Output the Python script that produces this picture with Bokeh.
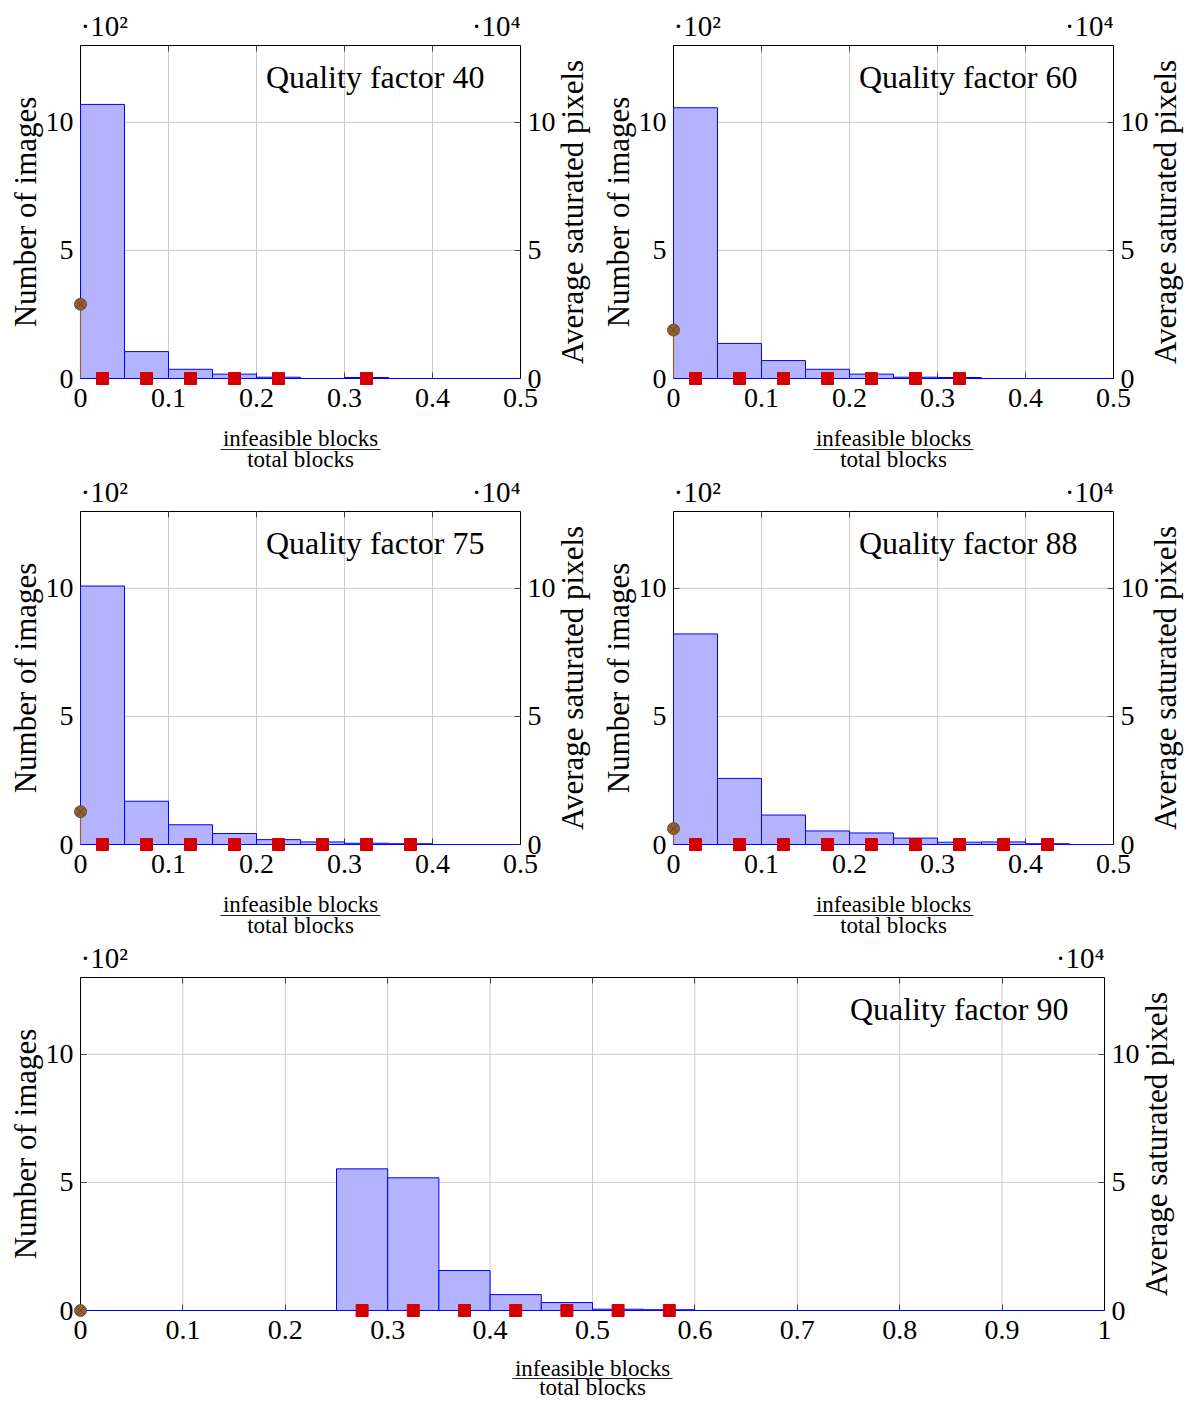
import math
from bokeh.plotting import figure
from bokeh.models import (Range1d, LinearAxis, FixedTicker, CustomJSTickFormatter, Label)
from bokeh.layouts import column, row
from bokeh.embed import file_html
from bokeh.resources import INLINE

FONT = "Liberation Serif"

# ---------------- data (counts in units of 10^2, saturated pixels in units of 10^4)
bin_width = 0.05
q40_counts = [10.7, 1.05, 0.36, 0.17, 0.05, 0.0, 0.04, 0.0, 0.0, 0.0]
q60_counts = [10.57, 1.37, 0.70, 0.36, 0.17, 0.05, 0.04, 0.0, 0.0, 0.0]
q75_counts = [10.09, 1.69, 0.77, 0.43, 0.19, 0.10, 0.05, 0.03, 0.0, 0.0]
q88_counts = [8.22, 2.58, 1.15, 0.53, 0.45, 0.25, 0.09, 0.10, 0.03, 0.0]
q90_counts = [0.0, 0.0, 0.0, 0.0, 0.0, 5.53, 5.18, 1.56, 0.62, 0.31,
              0.05, 0.03, 0.0, 0.0, 0.0, 0.0, 0.0, 0.0, 0.0, 0.0]

q40_sat_x = [0.025, 0.075, 0.125, 0.175, 0.225, 0.325]
q40_sat_y = [0.0, 0.0, 0.0, 0.0, 0.0, 0.0]
q60_sat_x = [0.025, 0.075, 0.125, 0.175, 0.225, 0.275, 0.325]
q60_sat_y = [0.0, 0.0, 0.0, 0.0, 0.0, 0.0, 0.0]
q75_sat_x = [0.025, 0.075, 0.125, 0.175, 0.225, 0.275, 0.325, 0.375]
q75_sat_y = [0.0, 0.0, 0.0, 0.0, 0.0, 0.0, 0.0, 0.0]
q88_sat_x = [0.025, 0.075, 0.125, 0.175, 0.225, 0.275, 0.325, 0.375, 0.425]
q88_sat_y = [0.0, 0.0, 0.0, 0.0, 0.0, 0.0, 0.0, 0.0, 0.0]
q90_sat_x = [0.275, 0.325, 0.375, 0.425, 0.475, 0.525, 0.575]
q90_sat_y = [0.0, 0.0, 0.0, 0.0, 0.0, 0.0, 0.0]

# saturated pixels of images with no infeasible block (x = 0)
q40_zero = [0.0, 2.9]
q60_zero = [0.0, 1.89]
q75_zero = [0.0, 1.28]
q88_zero = [0.0, 0.62]
q90_zero = [0.0, 0.0]

xticks_small = [0, 0.1, 0.2, 0.3, 0.4, 0.5]
xticks_wide = [0, 0.1, 0.2, 0.3, 0.4, 0.5, 0.6, 0.7, 0.8, 0.9, 1.0]
yticks = [0, 5, 10]
YMAX = 13

left_label = "Number of images"
right_label = "Average saturated pixels"
frac_num = "infeasible blocks"
frac_den = "total blocks"

# ---------------- layout constants (pixels)
BOX_H = 333
BOX_LEFT = 80

BAR_FILL = "#b3b3ff"
BAR_LINE = "#0000ff"
RED = "#d40000"
BROWN = "#946030"
GRID = "#cccccc"


def fmt():
    return CustomJSTickFormatter(code="return tick.toFixed(1).replace(/\\.0$/, '');")


def make_panel(counts, sat_x, sat_y, zero, title, xmax, xticks, box_w, fig_w, fig_h,
               box_top, frac_offsets=(-60, -71, -81)):
    px_x = box_w / xmax
    px_y = BOX_H / YMAX
    xs = -BOX_LEFT / px_x
    xe = xmax + (fig_w - BOX_LEFT - box_w) / px_x
    ys = -(fig_h - box_top - BOX_H) / px_y
    ye = YMAX + box_top / px_y
    p = figure(width=fig_w, height=fig_h,
               x_range=Range1d(xs, xe), y_range=Range1d(ys, ye),
               x_axis_location=None, y_axis_location=None,
               toolbar_location=None, output_backend="svg", min_border=0)
    p.outline_line_color = None
    p.background_fill_color = "white"
    p.border_fill_color = "white"
    p.xgrid.visible = False
    p.ygrid.visible = False
    p.extra_y_ranges = {"right": Range1d(ys, ye)}

    # grid lines inside the box
    gx = [t for t in xticks if 0 < t < xmax]
    p.segment(x0=gx, y0=[0] * len(gx), x1=gx, y1=[YMAX] * len(gx),
              line_color=GRID, line_width=1)
    gy = [t for t in yticks if 0 < t < YMAX]
    p.segment(x0=[0] * len(gy), y0=gy, x1=[xmax] * len(gy), y1=gy,
              line_color=GRID, line_width=1)

    # histogram
    n = len(counts)
    lefts = [i * bin_width for i in range(n)]
    rights = [(i + 1) * bin_width for i in range(n)]
    p.quad(left=lefts, right=rights, bottom=[0] * n, top=counts,
           fill_color=BAR_FILL, line_color=BAR_LINE, line_width=1, level="overlay")

    # saturated pixels
    p.line(x=[0, 0], y=zero, line_color=BROWN, line_width=1.2,
           y_range_name="right", level="overlay")
    p.scatter(x=[0], y=[zero[1]], marker="circle_x", size=12,
              fill_color=BROWN, line_color="#5a3a1c", line_width=0.8,
              y_range_name="right", level="overlay")
    p.scatter(x=sat_x, y=sat_y, marker="square", size=12,
              fill_color=RED, line_color=RED, y_range_name="right", level="overlay")

    # axes (drawn as the box)
    bottom = LinearAxis(fixed_location=0, bounds=(0, xmax),
                        ticker=FixedTicker(ticks=xticks), formatter=fmt())
    left = LinearAxis(fixed_location=0, bounds=(0, YMAX),
                      ticker=FixedTicker(ticks=yticks), formatter=fmt())
    right = LinearAxis(fixed_location=xmax, y_range_name="right", bounds=(0, YMAX),
                       ticker=FixedTicker(ticks=yticks), formatter=fmt())
    top = LinearAxis(fixed_location=YMAX, bounds=(0, xmax), ticker=FixedTicker(ticks=xticks),
                     formatter=CustomJSTickFormatter(code="return '';"))
    for ax in (bottom, left, right, top):
        ax.major_tick_in = 6
        ax.major_tick_out = 0
        ax.minor_tick_line_color = None
        ax.axis_line_color = "black"
        ax.axis_line_width = 1
        ax.major_tick_line_color = "#444444"
        ax.major_label_text_font = FONT
        ax.major_label_text_font_size = "28px"
        ax.major_label_text_color = "black"
        ax.major_label_standoff = 7
    bottom.major_label_standoff = 10
    p.add_layout(bottom, "below")
    p.add_layout(left, "left")
    p.add_layout(right, "right")
    p.add_layout(top, "above")

    # axis titles
    p.add_layout(Label(x=0, y=YMAX / 2, x_offset=-55, angle=math.pi / 2,
                       text=left_label, text_align="center", text_baseline="middle",
                       text_font=FONT, text_font_size="31px", text_color="black"))
    p.add_layout(Label(x=xmax, y=YMAX / 2, x_offset=52, angle=math.pi / 2,
                       text=right_label, text_align="center", text_baseline="middle",
                       text_font=FONT, text_font_size="31px", text_color="black"))
    # scale multipliers
    p.add_layout(Label(x=0, y=YMAX, y_offset=4, text="·10²", text_align="left",
                       text_baseline="bottom", text_font=FONT,
                       text_font_size="29px", text_color="black"))
    p.add_layout(Label(x=xmax, y=YMAX, y_offset=4, text="·10⁴", text_align="right",
                       text_baseline="bottom", text_font=FONT,
                       text_font_size="29px", text_color="black"))
    # title inside
    p.add_layout(Label(x=xmax, y=YMAX, x_offset=-36, y_offset=-31, text=title,
                       text_align="right", text_baseline="middle", text_font=FONT,
                       text_font_size="32px", text_color="black"))
    # fraction x label
    xm = xmax / 2
    hw = 80 / px_x
    p.add_layout(Label(x=xm, y=0, y_offset=frac_offsets[0], text=frac_num,
                       text_align="center", text_baseline="middle", text_font=FONT,
                       text_font_size="23px", text_color="black"))
    yb = frac_offsets[1] / px_y
    p.segment(x0=[xm - hw], y0=[yb], x1=[xm + hw], y1=[yb],
              line_color="#222222", line_width=1)
    p.add_layout(Label(x=xm, y=0, y_offset=frac_offsets[2], text=frac_den,
                       text_align="center", text_baseline="middle", text_font=FONT,
                       text_font_size="23px", text_color="black"))
    return p


p1 = make_panel(q40_counts, q40_sat_x, q40_sat_y, q40_zero, "Quality factor 40",
                0.5, xticks_small, 440, 593, 474, 45)
p2 = make_panel(q60_counts, q60_sat_x, q60_sat_y, q60_zero, "Quality factor 60",
                0.5, xticks_small, 440, 596, 474, 45)
p3 = make_panel(q75_counts, q75_sat_x, q75_sat_y, q75_zero, "Quality factor 75",
                0.5, xticks_small, 440, 593, 466, 37)
p4 = make_panel(q88_counts, q88_sat_x, q88_sat_y, q88_zero, "Quality factor 88",
                0.5, xticks_small, 440, 596, 466, 37)
p5 = make_panel(q90_counts, q90_sat_x, q90_sat_y, q90_zero, "Quality factor 90",
                1.0, xticks_wide, 1024, 1189, 461, 37, frac_offsets=(-58, -68, -77))

layout = column(row(p1, p2), row(p3, p4), p5)
open("out.html", "w").write(file_html(layout, INLINE))
